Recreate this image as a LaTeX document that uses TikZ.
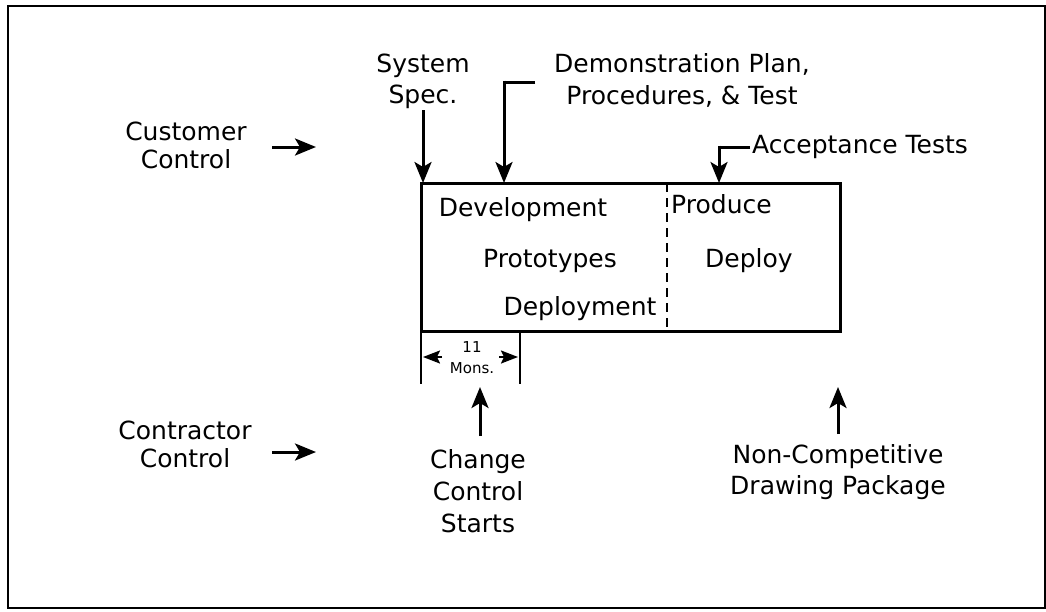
\documentclass[tikz,border=0pt]{standalone}
\usepackage{fontspec}
\setmainfont{DejaVu Sans}
\usetikzlibrary{arrows.meta}
% multi-line labels are placed by the baseline of their last line
\tikzset{
  lbl/.style={inner sep=0pt, align=center, anchor=base, font=\fontsize{25}{28}\selectfont},
  small/.style={inner sep=0pt, align=center, anchor=base, font=\fontsize{15}{21}\selectfont},
  conn/.style={line width=3pt, -{Stealth[length=21pt,width=17pt,inset=5pt]}},
  plain/.style={line width=3pt},
  dim/.style={line width=2pt, -{Stealth[length=17pt,width=13pt,inset=3pt]}},
}
\begin{document}
\begin{tikzpicture}[x=1pt,y=-1pt]
\useasboundingbox (0,0) rectangle (1046,611);
% outer frame
\draw[line width=2pt] (1045,6) -- (8,6) -- (8,608) -- (1045,608) -- cycle;

% main process box, split by a dashed line
\draw[line width=3pt] (421,183) rectangle (840,331);
\draw[line width=2.6pt, dash pattern=on 9pt off 6pt] (667,183) -- (667,331);

\node[lbl] (dev) at (523,216) {Development};
\node[lbl] (proto) at (550,267) {Prototypes};
\node[lbl] (deplmt) at (580,315) {Deployment};
\node[lbl, anchor=base west] (prod) at (671,213) {Produce};
\node[lbl] (deploy) at (749,267) {Deploy};

% inputs along the top
\node[lbl, font=\fontsize{25}{31}\selectfont] (spec) at (423,103) {System\\Spec.};
\coordinate (specin) at (423,183);
\draw[conn] (423,110) -- (specin);

\node[lbl, font=\fontsize{25}{32}\selectfont] (demo) at (682,104) {Demonstration Plan,\\Procedures, \& Test};
\coordinate (demoknee) at (504,82);
\coordinate (demoin) at (504,183);
\draw[plain] (535,82) -- (demoknee);
\draw[conn] (504,80.5) -- (demoin);

\node[lbl, anchor=base west] (accept) at (752,153) {Acceptance Tests};
\coordinate (acceptin) at (719,183);
\draw[plain] (750,147) -- (719,147);
\draw[conn] (719,145.5) -- (acceptin);

% control regimes
\node[lbl] (cust) at (186,168) {Customer\\Control};
\coordinate (custend) at (316,147);
\draw[conn] (272,147) -- (custend);

\node[lbl] (contr) at (185,467) {Contractor\\Control};
\coordinate (contrend) at (316,452);
\draw[conn] (272,452) -- (contrend);

% eleven month span
\draw[line width=2.6pt] (421,331) -- (421,384);
\draw[line width=2.6pt] (520,331) -- (520,384);
\node[small] (mons) at (472,373) {11\\Mons.};
\coordinate (leftend) at (423,357);
\coordinate (rightend) at (518,357);
\draw[dim] (442,357) -- (leftend);
\draw[dim] (499,357) -- (rightend);

% outputs below
\node[lbl, font=\fontsize{25}{32}\selectfont] (change) at (478,532) {Change\\Control\\Starts};
\coordinate (changeend) at (480,387);
\draw[conn] (480,436) -- (changeend);

\node[lbl, font=\fontsize{25}{31}\selectfont] (noncomp) at (838,494) {Non-Competitive\\Drawing Package};
\coordinate (noncompend) at (838,387);
\draw[conn] (838,434) -- (noncompend);
\end{tikzpicture}
\end{document}
